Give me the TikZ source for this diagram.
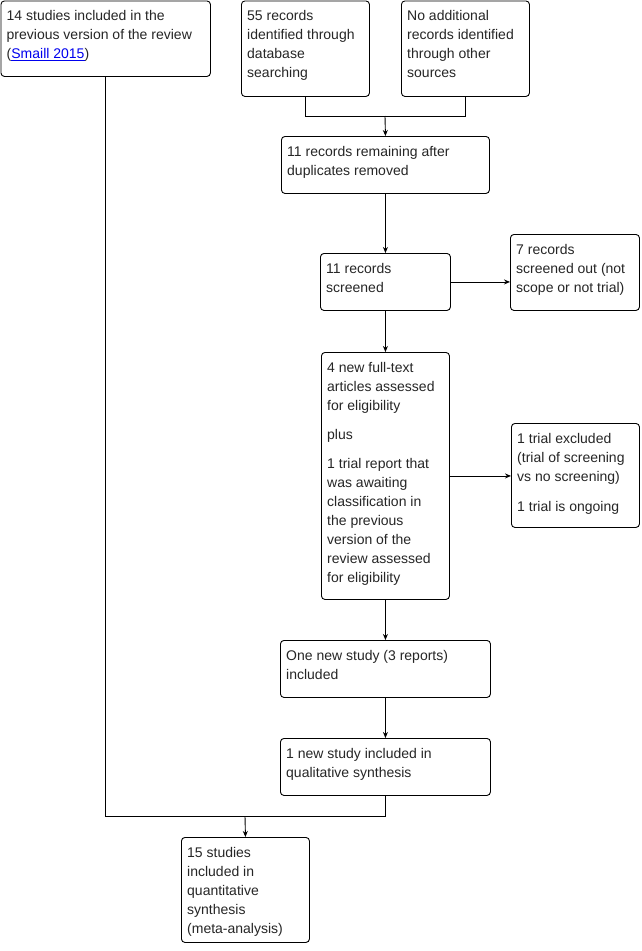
\documentclass[tikz,border=0pt]{standalone}
\usepackage{fontspec}
\setmainfont{Liberation Sans}
\usetikzlibrary{arrows.meta,calc}
\definecolor{linkblue}{RGB}{0,0,238}
\tikzset{
  boxst/.style={draw=black, line width=0.9pt, rounded corners=3.5pt, inner sep=0pt, fill=white},
  txtst/.style={inner sep=0pt, font=\fontsize{14pt}{19pt}\selectfont, text=black!85},
  conn/.style={draw=black, line width=0.9pt},
  arr/.style={conn, -{Stealth[length=6pt,width=5pt]}},
}
\newcommand\flowbox[6]{%
  \node[boxst, minimum width=#4pt, minimum height=#5pt, anchor=north west] (#1) at (#2,#3) {};
  \node[txtst, anchor=base west] (#1t) at ([xshift=6pt,yshift=-20pt]#1.north west)
    {\parbox[t]{\dimexpr#4pt-8pt\relax}{\raggedright #6}};%
}
\begin{document}
\begin{tikzpicture}[x=1pt,y=-1pt]
\useasboundingbox (0,0) rectangle (642,951);
\flowbox{A}{0.5}{0.5}{209.5}{75.5}{14 studies included in the\\previous version of the review\\({\color{linkblue}\underline{Smaill 2015}})}
\flowbox{B}{241}{0.5}{128}{95.5}{55 records\\identified through\\database\\searching}
\flowbox{C}{401}{0.5}{128}{95.5}{No additional\\records identified\\through other\\sources}
\flowbox{D}{281}{136}{208}{57}{11 records remaining after\\duplicates removed}
\flowbox{E}{320}{253}{130}{57}{11 records\\screened}
\flowbox{F}{510}{234}{129}{76}{7 records\\screened out (not\\scope or not trial)}
\flowbox{G}{321}{352}{128}{247}{4 new full-text\\articles assessed\\for eligibility\\[10pt]plus\\[10pt]1 trial report that\\was awaiting\\classification in\\the previous\\version of the\\review assessed\\for eligibility}
\flowbox{H}{511}{423}{128}{104}{1 trial excluded\\(trial of screening\\vs no screening)\\[11pt]1 trial is ongoing}
\flowbox{I}{280}{640}{210}{57}{One new study (3 reports)\\included}
\flowbox{J}{280}{738}{210}{57}{1 new study included in\\qualitative synthesis}
\flowbox{K}{181}{837}{128}{105}{15 studies\\included in\\quantitative\\synthesis\\(meta-analysis)}
\coordinate (j1) at (385,116);
\coordinate (j2) at (245,816);
\draw[conn] (B.south) |- (j1);
\draw[conn] (C.south) |- (j1);
\draw[arr] (j1) -- (D.north);
\draw[arr] (D.south) -- (E.north);
\draw[arr] (E.east) -- (E.east -| F.west);
\draw[arr] (E.south) -- (G.north);
\draw[arr] (G.east) -- (G.east -| H.west);
\draw[arr] (G.south) -- (I.north);
\draw[arr] (I.south) -- (J.north);
\draw[conn] (A.south) |- (j2);
\draw[conn] (J.south) |- (j2);
\draw[arr] (j2) -- (K.north);
\end{tikzpicture}
\end{document}
